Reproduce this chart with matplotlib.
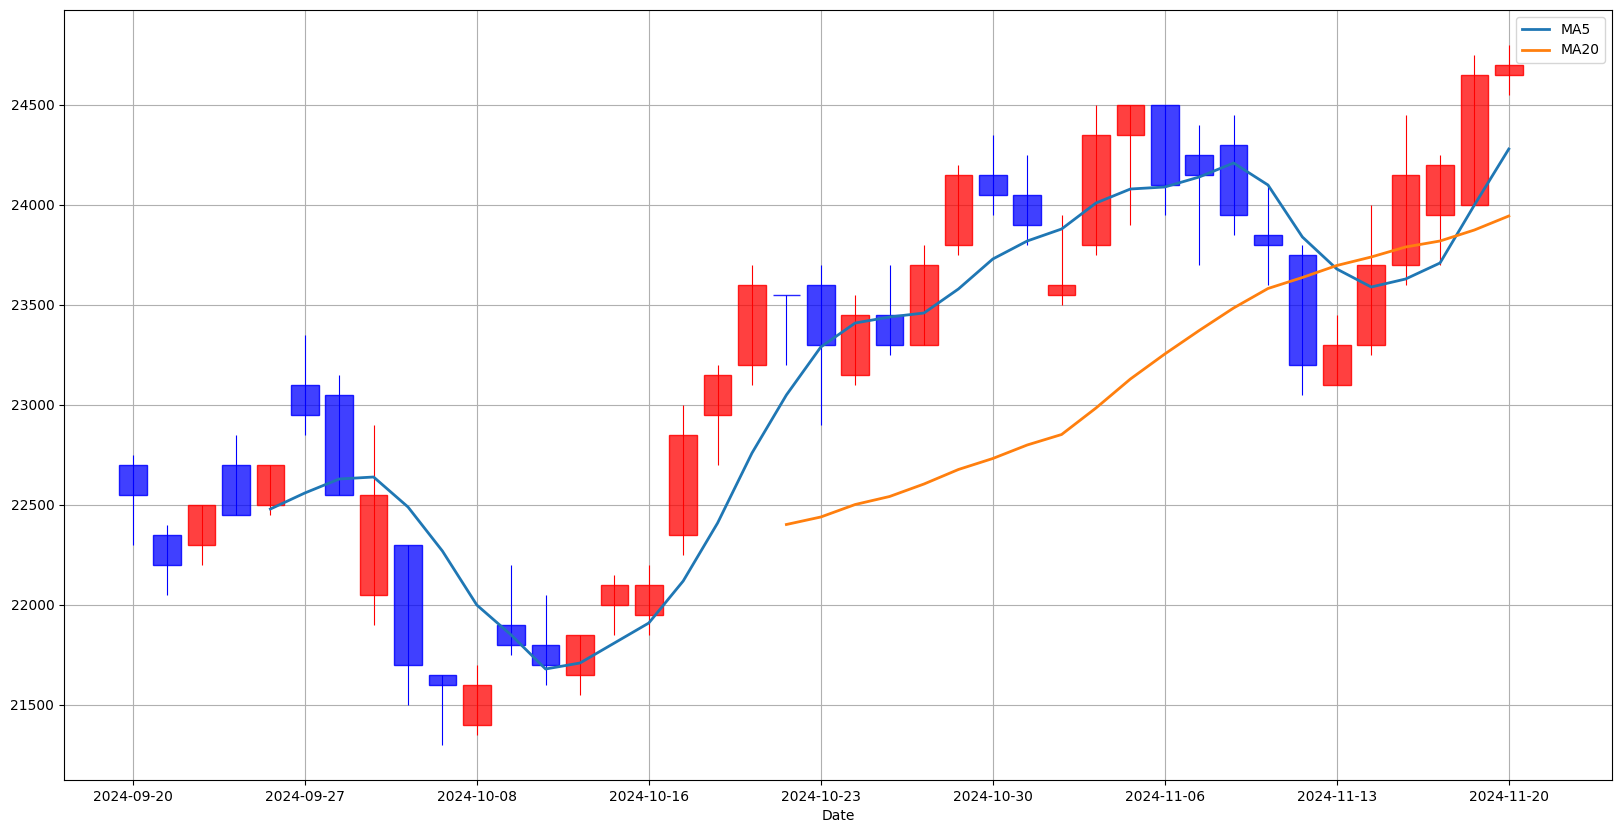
import matplotlib
matplotlib.use("Agg")
import matplotlib.pyplot as plt
from matplotlib.patches import Rectangle
from matplotlib.colors import to_rgba
import pandas as pd

#%% Data (trading days only)
dates = ['2024-09-20', '2024-09-23', '2024-09-24', '2024-09-25', '2024-09-26',
         '2024-09-27', '2024-09-30', '2024-10-02', '2024-10-03', '2024-10-04',
         '2024-10-08', '2024-10-09', '2024-10-10', '2024-10-14', '2024-10-15',
         '2024-10-16', '2024-10-17', '2024-10-18', '2024-10-21', '2024-10-22',
         '2024-10-23', '2024-10-24', '2024-10-25', '2024-10-28', '2024-10-29',
         '2024-10-30', '2024-10-31', '2024-11-01', '2024-11-04', '2024-11-05',
         '2024-11-06', '2024-11-07', '2024-11-08', '2024-11-11', '2024-11-12',
         '2024-11-13', '2024-11-14', '2024-11-15', '2024-11-18', '2024-11-19',
         '2024-11-20']

opens = [22700, 22350, 22300, 22700, 22500, 23100, 23050, 22050, 22300, 21650,
         21400, 21900, 21800, 21650, 22000, 21950, 22350, 22950, 23200, 23550,
         23600, 23150, 23450, 23300, 23800, 24150, 24050, 23550, 23800, 24350,
         24500, 24250, 24300, 23850, 23750, 23100, 23300, 23700, 23950, 24000,
         24650]
highs = [22750, 22400, 22500, 22850, 22700, 23350, 23150, 22900, 22300, 21650,
         21700, 22200, 22050, 21850, 22150, 22200, 23000, 23200, 23700, 23550,
         23700, 23550, 23700, 23800, 24200, 24350, 24250, 23950, 24500, 24500,
         24500, 24400, 24450, 24100, 23800, 23450, 24000, 24450, 24250, 24750,
         24800]
lows = [22300, 22050, 22200, 22450, 22450, 22850, 22550, 21900, 21500, 21300,
        21350, 21750, 21600, 21550, 21850, 21850, 22250, 22700, 23100, 23200,
        22900, 23100, 23250, 23300, 23750, 23950, 23800, 23500, 23750, 23900,
        23950, 23700, 23850, 23600, 23050, 23100, 23250, 23600, 23700, 24000,
        24550]
closes = [22550, 22200, 22500, 22450, 22700, 22950, 22550, 22550, 21700, 21600,
          21600, 21800, 21700, 21850, 22100, 22100, 22850, 23150, 23600, 23550,
          23300, 23450, 23300, 23700, 24150, 24050, 23900, 23600, 24350, 24500,
          24100, 24150, 23950, 23800, 23200, 23300, 23700, 24150, 24200, 24650,
          24700]

df = pd.DataFrame({'Date': pd.to_datetime(dates), 'Open': opens, 'High': highs,
                   'Low': lows, 'Close': closes})
df['MA5'] = df['Close'].rolling(5).mean()
df['MA20'] = df['Close'].rolling(20).mean()

#%% Plotting
fig = plt.figure(figsize=(16.23, 8.33), dpi=100)
ax = fig.add_axes([64/1623, 53/833, 1548/1623, 770/833])

width = 0.8
for i, row in df.iterrows():
    color = 'red' if row['Close'] > row['Open'] else 'blue'
    lower = min(row['Open'], row['Close'])
    height = abs(row['Close'] - row['Open'])
    ax.vlines(i, row['Low'], row['High'], color=color, linewidth=0.8, zorder=3)
    ax.add_patch(Rectangle((i - width/2, lower), width, height,
                           facecolor=to_rgba(color, 0.75), edgecolor=to_rgba(color, 0.85),
                           linewidth=1, zorder=3))

ax.plot(df.index, df['MA5'], label='MA5', linewidth=2, zorder=4)
ax.plot(df.index, df['MA20'], label='MA20', linewidth=2, zorder=4)

ticks = list(range(0, len(df), 5))
ax.set_xticks(ticks)
ax.set_xticklabels(df['Date'].dt.strftime('%Y-%m-%d').iloc[ticks])
ax.set_xlim(-2, 43)
ax.set_ylim(21125, 24975)
ax.set_xlabel('Date')
ax.grid(True)
ax.legend(loc='upper right')

plt.savefig('out.png')
